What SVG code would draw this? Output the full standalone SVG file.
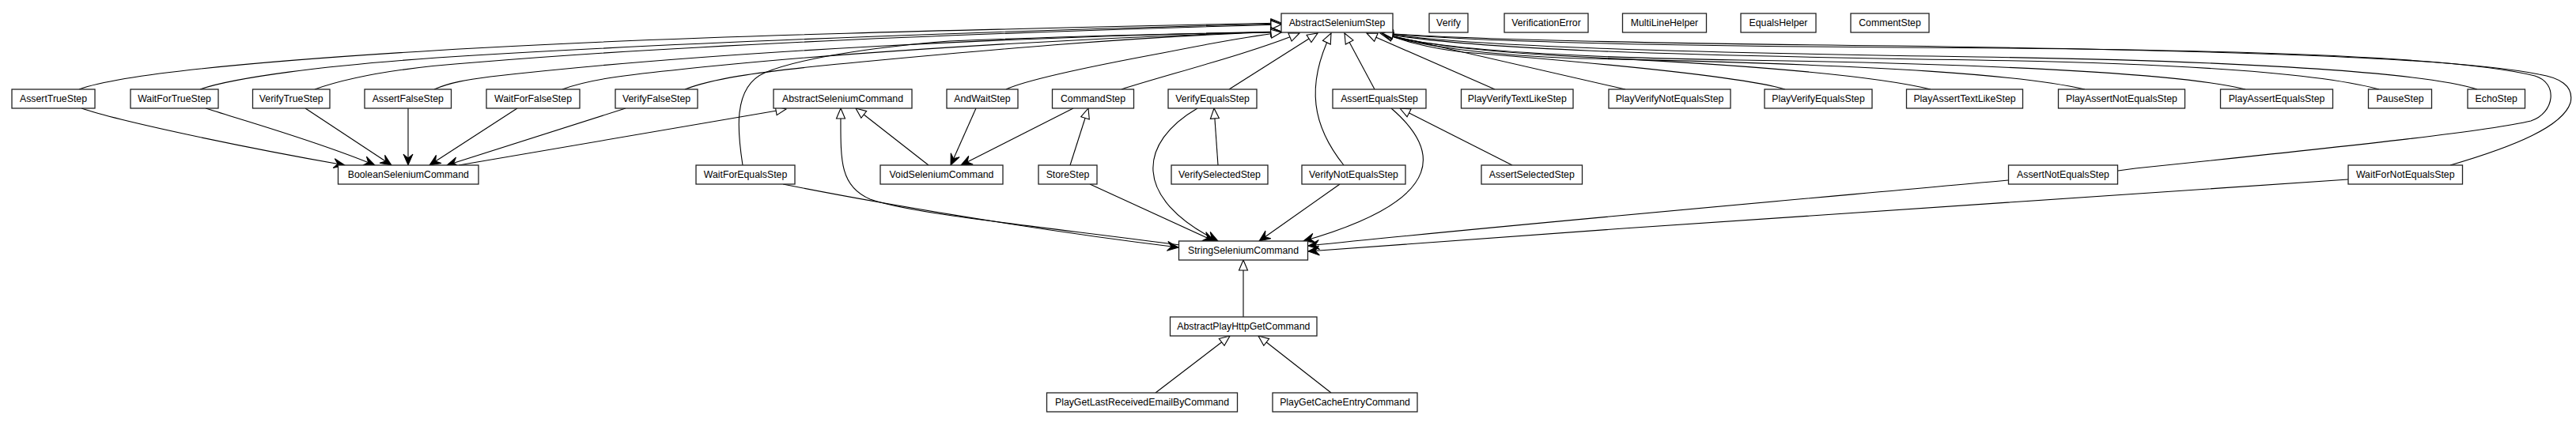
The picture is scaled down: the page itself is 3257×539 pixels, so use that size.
<svg xmlns="http://www.w3.org/2000/svg" width="3257" height="539" viewBox="0 0 3257 539">
<style>
.n rect{fill:#fff;stroke:#222;stroke-width:1.3}
.n text{font-family:"Liberation Sans",Arial,sans-serif;font-size:12.3px;fill:#000;text-anchor:middle}
.e path{fill:none;stroke:#000;stroke-width:1.1}
.e .ext{marker-end:url(#tri)}
.e .dep{marker-end:url(#vee)}
</style>
<defs>
<marker id="tri" markerUnits="userSpaceOnUse" markerWidth="15" markerHeight="12" refX="13" refY="5.5" orient="auto" overflow="visible">
<path d="M0,0 L13,5.5 L0,11 z" fill="#fff" stroke="#000" stroke-width="1.1"/>
</marker>
<marker id="vee" markerUnits="userSpaceOnUse" markerWidth="16" markerHeight="13" refX="14" refY="6" orient="auto" overflow="visible">
<path d="M0,0 L14,6 L0,12 L5,6 z" fill="#000" stroke="#000" stroke-width="1"/>
</marker>
</defs>
<rect width="3257" height="539" fill="#fff"/>
<g id="connectors" class="e">
<!-- inheritance to AbstractSeleniumStep, left group -->
<path class="ext" d="M100,113 C150,95 300,78 600,61 C900,44 1300,36 1620,29"/>
<path class="ext" d="M253,113 C290,100 400,82 600,70 C900,52 1300,38 1620,30"/>
<path class="ext" d="M398,113 C440,98 500,86 600,79 C900,54 1300,40 1620,31"/>
<path class="ext" d="M549,113 C570,104 590,101 620,97 C900,65 1300,46 1620,40"/>
<path class="ext" d="M711,113 C740,102 780,96 850,89 C1000,72 1300,50 1620,40"/>
<path class="ext" d="M866,113 C900,100 950,92 1050,82 C1200,68 1400,48 1620,40"/>
<path class="ext" d="M939,209 C933,170 925,110 967,92 C1010,74 1100,60 1200,52 C1350,46 1500,42 1620,41"/>
<path class="ext" d="M1272,113 C1300,100 1400,80 1470,67 C1530,55 1580,46 1620,41"/>
<path class="ext" d="M1418,113 C1470,96 1580,68 1643,42"/>
<path class="ext" d="M1554,113 L1666,42"/>
<path class="ext" d="M1699,209 C1660,160 1650,110 1683,42"/>
<path class="ext" d="M1738,113 L1700,42"/>
<path class="ext" d="M1890,113 L1728,42"/>
<path class="ext" d="M2055,113 L1745,42"/>
<!-- inheritance to AbstractSeleniumStep, right group -->
<path class="ext" d="M2257,113 C2200,96 2000,78 1850,66 C1800,60 1770,50 1748,42"/>
<path class="ext" d="M2441,113 C2380,98 2250,84 2000,72 C1880,66 1790,56 1748,42"/>
<path class="ext" d="M2636,113 C2560,96 2400,82 2000,74 C1880,70 1790,58 1748,42"/>
<path class="ext" d="M2839,113 C2780,98 2600,82 2200,76 C1950,72 1800,60 1748,42"/>
<path class="ext" d="M3008,113 C2960,100 2850,82 2500,76 C2100,70 1850,62 1748,42"/>
<path class="ext" d="M3132,113 C3080,96 2900,78 2500,72 C2100,66 1850,58 1748,42"/>
<path class="ext" d="M2678,216 L2700,213 C3000,182 3150,165 3200,153 C3230,143 3235,105 3205,96 C3100,70 2800,62 2400,60 C2100,58 1850,52 1748,42"/>
<path class="ext" d="M3098,209 C3180,185 3240,160 3250,130 C3255,108 3235,98 3210,94 C3100,72 2800,64 2400,58 C2100,55 1850,50 1748,42"/>
<!-- other inheritance -->
<path class="ext" d="M580,209 L994,138"/>
<path class="ext" d="M1174,209 L1082,137"/>
<path class="ext" d="M1492,310 C1300,285 1150,270 1100,252 C1060,235 1063,200 1063,137"/>
<path class="ext" d="M1353,209 L1376,137"/>
<path class="ext" d="M1540,209 L1535,137"/>
<path class="ext" d="M1912,209 L1770,137"/>
<path class="ext" d="M1572,401 L1572,329"/>
<path class="ext" d="M1461,497 L1555,425"/>
<path class="ext" d="M1683,497 L1591,425"/>
<!-- dependencies to BooleanSeleniumCommand -->
<path class="dep" d="M103,137 C150,153 300,185 436,209"/>
<path class="dep" d="M260,137 C300,150 400,178 474,209"/>
<path class="dep" d="M386,137 L495,209"/>
<path class="dep" d="M516,137 L516,209"/>
<path class="dep" d="M654,137 L543,209"/>
<path class="dep" d="M791,137 L565,209"/>
<!-- dependencies to VoidSeleniumCommand -->
<path class="dep" d="M1234,137 L1202,209"/>
<path class="dep" d="M1357,137 L1215,209"/>
<!-- dependencies to StringSeleniumCommand -->
<path class="dep" d="M990,233 C1100,255 1300,290 1490,313"/>
<path class="dep" d="M1378,233 L1535,305"/>
<path class="dep" d="M1514,137 C1440,180 1430,250 1540,305"/>
<path class="dep" d="M1694,233 L1592,305"/>
<path class="dep" d="M1759,137 C1815,185 1840,250 1648,305"/>
<path class="dep" d="M2539,228 C2300,250 1900,285 1654,311"/>
<path class="dep" d="M2969,227 C2600,250 2100,285 1654,318"/>
</g>
<g id="AbstractSeleniumStep" class="n"><rect x="1620" y="17" width="141" height="24"/><text x="1690.5" y="33">AbstractSeleniumStep</text></g>
<g id="Verify" class="n"><rect x="1807" y="17" width="49" height="24"/><text x="1831.5" y="33">Verify</text></g>
<g id="VerificationError" class="n"><rect x="1902" y="17" width="106" height="24"/><text x="1955" y="33">VerificationError</text></g>
<g id="MultiLineHelper" class="n"><rect x="2051.5" y="17" width="106" height="24"/><text x="2104.5" y="33">MultiLineHelper</text></g>
<g id="EqualsHelper" class="n"><rect x="2201" y="17" width="95" height="24"/><text x="2248.5" y="33">EqualsHelper</text></g>
<g id="CommentStep" class="n"><rect x="2340" y="17" width="99" height="24"/><text x="2389.5" y="33">CommentStep</text></g>
<g id="AssertTrueStep" class="n"><rect x="15" y="113" width="105" height="24"/><text x="67.5" y="129">AssertTrueStep</text></g>
<g id="WaitForTrueStep" class="n"><rect x="165" y="113" width="111" height="24"/><text x="220.5" y="129">WaitForTrueStep</text></g>
<g id="VerifyTrueStep" class="n"><rect x="319.5" y="113" width="97.5" height="24"/><text x="368.25" y="129">VerifyTrueStep</text></g>
<g id="AssertFalseStep" class="n"><rect x="461" y="113" width="109.5" height="24"/><text x="515.75" y="129">AssertFalseStep</text></g>
<g id="WaitForFalseStep" class="n"><rect x="615" y="113" width="118" height="24"/><text x="674" y="129">WaitForFalseStep</text></g>
<g id="VerifyFalseStep" class="n"><rect x="778" y="113" width="104" height="24"/><text x="830" y="129">VerifyFalseStep</text></g>
<g id="AbstractSeleniumCommand" class="n"><rect x="978" y="113" width="175" height="24"/><text x="1065.5" y="129">AbstractSeleniumCommand</text></g>
<g id="AndWaitStep" class="n"><rect x="1197" y="113" width="90" height="24"/><text x="1242" y="129">AndWaitStep</text></g>
<g id="CommandStep" class="n"><rect x="1330.5" y="113" width="103" height="24"/><text x="1382" y="129">CommandStep</text></g>
<g id="VerifyEqualsStep" class="n"><rect x="1477" y="113" width="112" height="24"/><text x="1533" y="129">VerifyEqualsStep</text></g>
<g id="AssertEqualsStep" class="n"><rect x="1685" y="113" width="118" height="24"/><text x="1744" y="129">AssertEqualsStep</text></g>
<g id="PlayVerifyTextLikeStep" class="n"><rect x="1847.5" y="113" width="141.5" height="24"/><text x="1918.25" y="129">PlayVerifyTextLikeStep</text></g>
<g id="PlayVerifyNotEqualsStep" class="n"><rect x="2034" y="113" width="154" height="24"/><text x="2111" y="129">PlayVerifyNotEqualsStep</text></g>
<g id="PlayVerifyEqualsStep" class="n"><rect x="2231" y="113" width="136" height="24"/><text x="2299" y="129">PlayVerifyEqualsStep</text></g>
<g id="PlayAssertTextLikeStep" class="n"><rect x="2410.5" y="113" width="147" height="24"/><text x="2484" y="129">PlayAssertTextLikeStep</text></g>
<g id="PlayAssertNotEqualsStep" class="n"><rect x="2602.5" y="113" width="160" height="24"/><text x="2682.5" y="129">PlayAssertNotEqualsStep</text></g>
<g id="PlayAssertEqualsStep" class="n"><rect x="2807.5" y="113" width="142" height="24"/><text x="2878.5" y="129">PlayAssertEqualsStep</text></g>
<g id="PauseStep" class="n"><rect x="2994.5" y="113" width="80" height="24"/><text x="3034.5" y="129">PauseStep</text></g>
<g id="EchoStep" class="n"><rect x="3120" y="113" width="72.5" height="24"/><text x="3156.25" y="129">EchoStep</text></g>
<g id="BooleanSeleniumCommand" class="n"><rect x="427.5" y="209" width="177.5" height="24"/><text x="516.25" y="225">BooleanSeleniumCommand</text></g>
<g id="WaitForEqualsStep" class="n"><rect x="880" y="209" width="125" height="24"/><text x="942.5" y="225">WaitForEqualsStep</text></g>
<g id="VoidSeleniumCommand" class="n"><rect x="1113" y="209" width="155" height="24"/><text x="1190.5" y="225">VoidSeleniumCommand</text></g>
<g id="StoreStep" class="n"><rect x="1313" y="209" width="74" height="24"/><text x="1350" y="225">StoreStep</text></g>
<g id="VerifySelectedStep" class="n"><rect x="1481" y="209" width="122" height="24"/><text x="1542" y="225">VerifySelectedStep</text></g>
<g id="VerifyNotEqualsStep" class="n"><rect x="1646" y="209" width="131" height="24"/><text x="1711.5" y="225">VerifyNotEqualsStep</text></g>
<g id="AssertSelectedStep" class="n"><rect x="1873" y="209" width="127.5" height="24"/><text x="1936.75" y="225">AssertSelectedStep</text></g>
<g id="AssertNotEqualsStep" class="n"><rect x="2539.5" y="209" width="138" height="24"/><text x="2608.5" y="225">AssertNotEqualsStep</text></g>
<g id="WaitForNotEqualsStep" class="n"><rect x="2969" y="209" width="144.5" height="24"/><text x="3041.25" y="225">WaitForNotEqualsStep</text></g>
<g id="StringSeleniumCommand" class="n"><rect x="1490.5" y="305" width="163" height="24"/><text x="1572" y="321">StringSeleniumCommand</text></g>
<g id="AbstractPlayHttpGetCommand" class="n"><rect x="1479.5" y="401" width="185.5" height="24"/><text x="1572.25" y="417">AbstractPlayHttpGetCommand</text></g>
<g id="PlayGetLastReceivedEmailByCommand" class="n"><rect x="1323.5" y="497" width="241" height="24"/><text x="1444" y="513">PlayGetLastReceivedEmailByCommand</text></g>
<g id="PlayGetCacheEntryCommand" class="n"><rect x="1609" y="497" width="183" height="24"/><text x="1700.5" y="513">PlayGetCacheEntryCommand</text></g>
</svg>
